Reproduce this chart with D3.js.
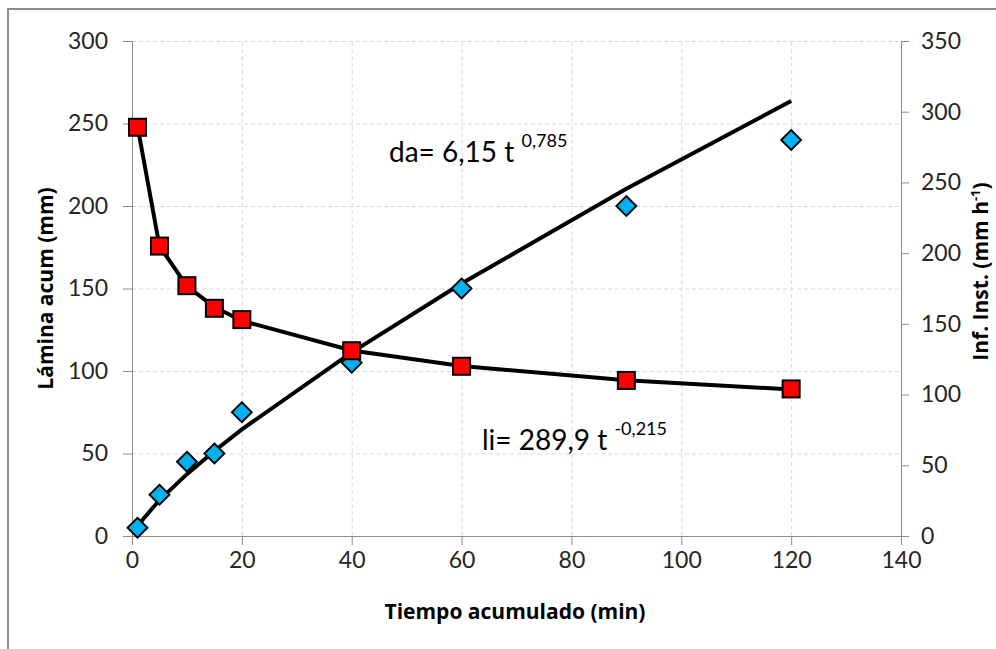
<html>
<head>
<meta charset="utf-8">
<script src="https://cdn.jsdelivr.net/npm/d3@7"></script>
<style>
body { margin: 0; background: #fff; }
.axis path, .axis line { stroke: #8c8c8c; }
.axis text { font-family: Lato, "Open Sans", sans-serif; font-size: 23px; fill: #262626; }
.grid line { stroke: #d9d9d9; stroke-dasharray: 4,3; }
.grid path { display: none; }
.title { font-family: "Open Sans", Lato, sans-serif; font-weight: bold; font-size: 21px; fill: #000; }
.eq { font-family: Lato, "Open Sans", sans-serif; font-size: 28px; fill: #000; }
</style>
</head>
<body>
<svg id="chart" width="996" height="649"></svg>
<script>
// tiempo (min)
var tiempo = [1, 5, 10, 15, 20, 40, 60, 90, 120];
// lámina acumulada observada (mm) - eje izquierdo
var laminaObs = [5, 25, 45, 50, 75, 105, 150, 200, 240];
// infiltración instantánea observada (mm/h) - eje derecho
var infObs = [289, 205, 177, 161, 153, 131, 120, 110, 104];
// curvas ajustadas
var laminaAjuste = [6.2, 21.8, 37.5, 51.5, 64.6, 111.3, 153, 210.4, 263.6];
var infAjuste = [289.9, 205, 176.7, 161.9, 152.2, 131.2, 120.2, 110.2, 103.6];

var xTicks = [0, 20, 40, 60, 80, 100, 120, 140];
var yLeftTicks = [0, 50, 100, 150, 200, 250, 300];
var yRightTicks = [0, 50, 100, 150, 200, 250, 300, 350];

var svg = d3.select("#chart"),
    margin = {top: 41, left: 132, bottom: 113, right: 95},
    width = +svg.attr("width") - margin.left - margin.right,
    height = +svg.attr("height") - margin.top - margin.bottom;

// marco exterior
svg.append("rect")
    .attr("x", 8).attr("y", 9)
    .attr("width", 1000).attr("height", 700)
    .attr("fill", "none")
    .attr("stroke", "#8c8c8c")
    .attr("stroke-width", 2);

var x = d3.scaleLinear().domain([0, 140]).range([margin.left, margin.left + width]);
var yL = d3.scaleLinear().domain([0, 300]).range([margin.top + height, margin.top]);
var yR = d3.scaleLinear().domain([0, 350]).range([margin.top + height, margin.top]);

// rejilla
svg.append("g").attr("class", "grid")
    .attr("transform", `translate(0,${margin.top + height})`)
    .call(d3.axisBottom(x).tickValues(xTicks.slice(1)).tickSize(-height).tickFormat(""));
svg.append("g").attr("class", "grid")
    .attr("transform", `translate(${margin.left},0)`)
    .call(d3.axisLeft(yL).tickValues(yLeftTicks.slice(1)).tickSize(-width).tickFormat(""));

// ejes
svg.append("g").attr("class", "axis")
    .attr("transform", `translate(0,${margin.top + height})`)
    .call(d3.axisBottom(x).tickValues(xTicks).tickSizeOuter(0).tickSize(9).tickPadding(7));
svg.append("g").attr("class", "axis")
    .attr("transform", `translate(${margin.left},0)`)
    .call(d3.axisLeft(yL).tickValues(yLeftTicks).tickSizeOuter(0).tickSize(9).tickPadding(15));
svg.append("g").attr("class", "axis")
    .attr("transform", `translate(${margin.left + width},0)`)
    .call(d3.axisRight(yR).tickValues(yRightTicks).tickSizeOuter(0).tickSize(8).tickPadding(12));
svg.selectAll(".axis .domain").attr("stroke", "#8c8c8c");

// curvas ajustadas
var lineL = d3.line().x(function(d, i){ return x(tiempo[i]); }).y(function(d){ return yL(d); });
var lineR = d3.line().x(function(d, i){ return x(tiempo[i]); }).y(function(d){ return yR(d); });
svg.append("path").attr("d", lineL(laminaAjuste))
    .attr("fill", "none").attr("stroke", "#000").attr("stroke-width", 4);
svg.append("path").attr("d", lineR(infAjuste))
    .attr("fill", "none").attr("stroke", "#000").attr("stroke-width", 4);

// diamantes azules
var dsz = 10;
laminaObs.forEach(function(v, i){
    var cx = x(tiempo[i]), cy = yL(v);
    svg.append("path")
        .attr("d", `M${cx},${cy - dsz}L${cx + dsz},${cy}L${cx},${cy + dsz}L${cx - dsz},${cy}Z`)
        .attr("fill", "#00b0f0")
        .attr("stroke", "#000")
        .attr("stroke-width", 1.8);
});

// cuadrados rojos
var ssz = 17;
infObs.forEach(function(v, i){
    svg.append("rect")
        .attr("x", x(tiempo[i]) - ssz / 2)
        .attr("y", yR(v) - ssz / 2)
        .attr("width", ssz).attr("height", ssz)
        .attr("fill", "#ff0000")
        .attr("stroke", "#000")
        .attr("stroke-width", 2);
});

// ecuaciones
var eq1 = svg.append("text").attr("class", "eq").attr("x", 389).attr("y", 162);
eq1.append("tspan").text("da= 6,15 t ");
eq1.append("tspan").text("0,785").attr("font-size", 18).attr("dy", -15);
var eq2 = svg.append("text").attr("class", "eq").attr("x", 482).attr("y", 450);
eq2.append("tspan").text("li= 289,9 t ");
eq2.append("tspan").text("-0,215").attr("font-size", 18).attr("dy", -15);

// títulos
svg.append("text").attr("class", "title")
    .attr("text-anchor", "middle")
    .attr("x", 515).attr("y", 619)
    .text("Tiempo acumulado (min)");
svg.append("text").attr("class", "title")
    .attr("text-anchor", "middle")
    .attr("transform", `translate(53,${yL(150)}) rotate(-90)`)
    .text("Lámina acum (mm)");
var tr = svg.append("text").attr("class", "title")
    .attr("text-anchor", "middle")
    .attr("font-size", 20)
    .attr("transform", `translate(988,${yR(187)}) rotate(-90)`);
tr.append("tspan").text("Inf. Inst. (mm h");
tr.append("tspan").text("-1").attr("font-size", 13).attr("dy", -8);
tr.append("tspan").text(")").attr("dy", 8);
</script>
</body>
</html>
